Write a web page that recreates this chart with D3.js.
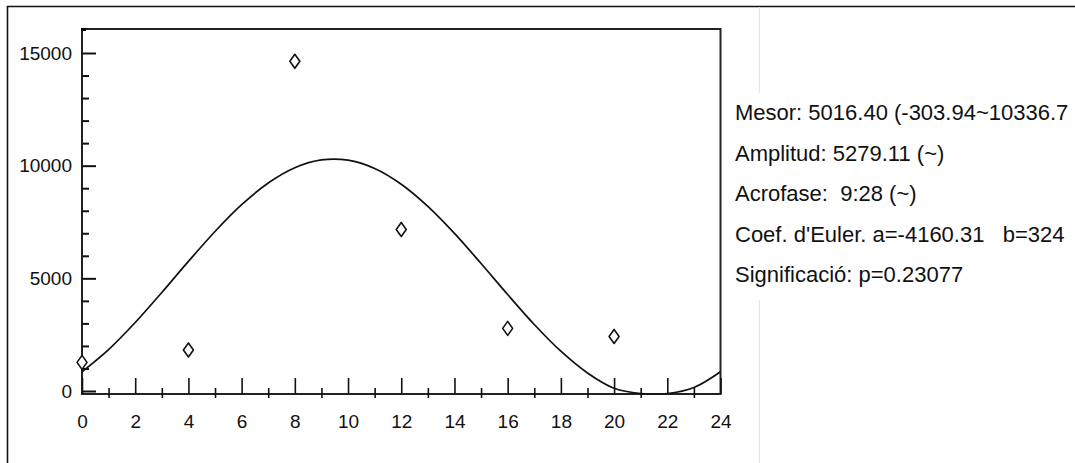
<!DOCTYPE html>
<html>
<head>
<meta charset="utf-8">
<script src="https://cdn.jsdelivr.net/npm/d3@7"></script>
<style>
  html, body { margin: 0; padding: 0; background: #ffffff; overflow: hidden; }
  svg { display: block; }
  text { font-family: "Liberation Sans", Arial, sans-serif; fill: #111; }
</style>
</head>
<body>
<script>
// ---- data ----
const sampleHours = [0, 4, 8, 12, 16, 20];
const sampleValues = [1270, 1820, 14630, 7170, 2780, 2420];

const fitHours = [0,1,2,3,4,5,6,7,8,9,10,11,12,13,14,15,16,17,18,19,20,21,22,23,24];
const fitValues = [856,1839,3038,4373,5751,7079,8266,9232,9911,10256,10244,9875,9176,8193,6994,5659,4281,2953,1766,800,121,-224,-212,157,856];

const xMajorTicks = [0,2,4,6,8,10,12,14,16,18,20,22,24];
const xMinorTicks = [1,3,5,7,9,11,13,15,17,19,21,23];
const yMajorTicks = [0,5000,10000,15000];
const yMinorTicks = [1000,2000,3000,4000,6000,7000,8000,9000,11000,12000,13000,14000,16000];

const statLines = [
  "Mesor: 5016.40 (-303.94~10336.7",
  "Amplitud: 5279.11 (~)",
  "Acrofase:  9:28 (~)",
  "Coef. d'Euler. a=-4160.31   b=324",
  "Significació: p=0.23077"
];

// ---- layout ----
const W = 1075, H = 463;
const pLeft = 82, pRight = 720.5, pTop = 29, axisY = 394;

const svg = d3.select("body").append("svg").attr("width", W).attr("height", H);

const x = d3.scaleLinear().domain([0, 24]).range([pLeft, pRight]);
const y = d3.scaleLinear().domain([0, 15000]).range([391, 53]);

// outer frame (top and left lines)
svg.append("line").attr("x1", 7).attr("y1", 6.5).attr("x2", W).attr("y2", 6.5)
  .attr("stroke", "#111").attr("stroke-width", 1.6);
svg.append("line").attr("x1", 7.5).attr("y1", 6).attr("x2", 7.5).attr("y2", H)
  .attr("stroke", "#111").attr("stroke-width", 1.6);

// faint vertical separator on the right
svg.append("line").attr("x1", 759.5).attr("y1", 7).attr("x2", 759.5).attr("y2", H)
  .attr("stroke", "#e9e8d6").attr("stroke-width", 1.2);

// white panel behind statistics text
svg.append("rect").attr("x", 733).attr("y", 93).attr("width", W - 733).attr("height", 207)
  .attr("fill", "#ffffff");

// plot frame
svg.append("rect").attr("x", pLeft).attr("y", pTop)
  .attr("width", pRight - pLeft).attr("height", axisY - pTop)
  .attr("fill", "none").attr("stroke", "#222").attr("stroke-width", 2);
svg.append("rect").attr("x", pLeft - 1).attr("y", pTop - 1).attr("width", 5).attr("height", 3)
  .attr("fill", "#000");

// y axis: major ticks with labels (ticks pointing inward)
const yAxis = d3.axisLeft(y).tickValues(yMajorTicks).tickFormat(d3.format("d"))
  .tickSizeInner(-14).tickSizeOuter(0).tickPadding(10);
const gy = svg.append("g").attr("transform", `translate(${pLeft},0)`).call(yAxis);
gy.select(".domain").remove();
gy.selectAll(".tick line").attr("stroke", "#111").attr("stroke-width", 2);
gy.selectAll(".tick text").attr("font-size", 19).attr("fill", "#111");

// y axis minor ticks
const yMinor = d3.axisLeft(y).tickValues(yMinorTicks.filter(v => y(v) > pTop + 2))
  .tickFormat("").tickSizeInner(-7).tickSizeOuter(0);
const gym = svg.append("g").attr("transform", `translate(${pLeft},0)`).call(yMinor);
gym.select(".domain").remove();
gym.selectAll(".tick line").attr("stroke", "#111").attr("stroke-width", 2);

// x axis: major ticks pointing up
const xAxis = d3.axisBottom(x).tickValues(xMajorTicks).tickFormat(d3.format("d"))
  .tickSizeInner(-16).tickSizeOuter(0).tickPadding(21);
const gx = svg.append("g").attr("transform", `translate(0,${axisY})`).call(xAxis);
gx.select(".domain").remove();
gx.selectAll(".tick line").attr("stroke", "#111").attr("stroke-width", 1.6);
gx.selectAll(".tick text").attr("font-size", 19).attr("fill", "#111");

// x axis minor ticks crossing the axis
const xMinor = d3.axisBottom(x).tickValues(xMinorTicks).tickFormat("")
  .tickSizeInner(10).tickSizeOuter(0);
const gxm = svg.append("g").attr("transform", `translate(0,${axisY - 6})`).call(xMinor);
gxm.select(".domain").remove();
gxm.selectAll(".tick line").attr("stroke", "#111").attr("stroke-width", 1.6);

// fitted cosine curve (negative part pressed onto the axis, as in the original)
svg.append("clipPath").attr("id", "plotClip").append("rect")
  .attr("x", pLeft).attr("y", pTop).attr("width", pRight - pLeft).attr("height", axisY - pTop + 0.5);

const line = d3.line()
  .x(d => x(d[0]))
  .y(d => Math.min(y(d[1]), axisY - 0.5))
  .curve(d3.curveCatmullRom.alpha(0.5));
svg.append("path")
  .datum(fitHours.map((h, i) => [h, fitValues[i]]))
  .attr("clip-path", "url(#plotClip)")
  .attr("d", line)
  .attr("fill", "none").attr("stroke", "#111").attr("stroke-width", 1.7);

// observed data: diamonds
svg.append("g").selectAll("path.pt")
  .data(sampleHours.map((h, i) => [h, sampleValues[i]]))
  .join("path").attr("class", "pt")
  .attr("transform", d => `translate(${x(d[0])},${y(d[1])})`)
  .attr("d", "M0,-7 L5,0 L0,7 L-5,0 Z")
  .attr("fill", "#fff").attr("stroke", "#111").attr("stroke-width", 1.6)
  .attr("stroke-linejoin", "round");

// statistics text
svg.append("g").selectAll("text.stat")
  .data(statLines)
  .join("text").attr("class", "stat")
  .attr("x", 735)
  .attr("y", (d, i) => 120 + i * 40.5)
  .attr("font-size", 22)
  .attr("xml:space", "preserve")
  .style("white-space", "pre")
  .text(d => d);
</script>
</body>
</html>
